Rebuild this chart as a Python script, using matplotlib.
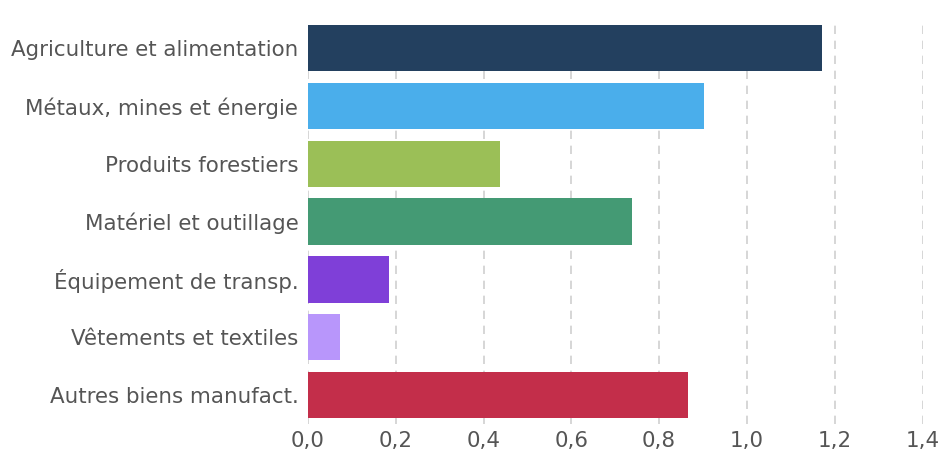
import matplotlib
matplotlib.use('Agg')
import matplotlib.pyplot as plt
from matplotlib.ticker import FuncFormatter

categories = ['Agriculture et alimentation', 'Métaux, mines et énergie', 'Produits forestiers',
              'Matériel et outillage', 'Équipement de transp.', 'Vêtements et textiles',
              'Autres biens manufact.']
values = [1.172, 0.902, 0.438, 0.738, 0.185, 0.074, 0.866]
colors = ['#23405f', '#4aaeeb', '#9bbf57', '#449a74', '#7f3fd8', '#b896fb', '#c32e4a']
xticks = [0.0, 0.2, 0.4, 0.6, 0.8, 1.0, 1.2, 1.4]

fig = plt.figure(figsize=(9.39, 4.53), dpi=100)
ax = fig.add_axes([0.328, 0.064, 0.6545, 0.894])

ypos = list(range(len(categories)))
ax.barh(ypos, values, height=0.8, color=colors, zorder=3)
ax.set_ylim(len(categories) - 0.5, -0.5)
ax.set_xlim(0, 1.4)
ax.set_yticks(ypos)
ax.set_yticklabels(categories)
ax.set_xticks(xticks)
ax.xaxis.set_major_formatter(FuncFormatter(lambda v, p: f'{v:.1f}'.replace('.', ',')))

ax.grid(axis='x', color='#d0d0d0', linestyle=(0, (5, 4)), linewidth=1.2, zorder=0)
for s in ax.spines.values():
    s.set_visible(False)
ax.tick_params(axis='both', length=0, labelsize=15.4, labelcolor='#555555')
ax.tick_params(axis='y', pad=7)
ax.tick_params(axis='x', pad=5)

fig.savefig('out.png', dpi=100)
